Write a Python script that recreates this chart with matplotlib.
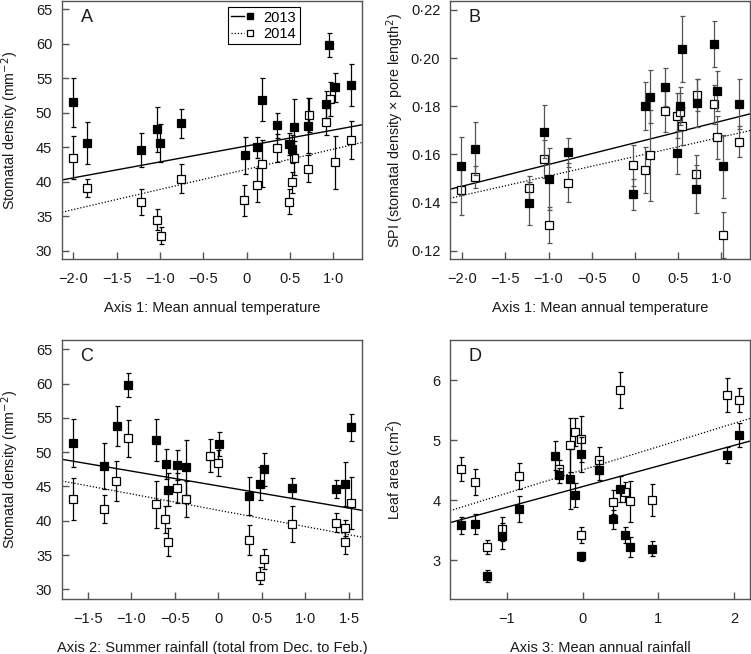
import matplotlib
matplotlib.use("Agg")
import matplotlib.pyplot as plt
import numpy as np
from matplotlib.lines import Line2D
from matplotlib.legend_handler import HandlerTuple
from matplotlib.ticker import FuncFormatter

plt.rcParams['font.family'] = ['Liberation Sans', 'DejaVu Sans']

# ---------------- data ----------------
years = ["2013", "2014"]

# Panel A: stomatal density vs Axis 1
a_x13 = [-2.00, -1.84, -1.22, -1.04, -0.995, -0.757, -0.02, 0.115, 0.176, 0.353, 0.49, 0.52, 0.545, 0.706, 0.91, 0.948, 1.02, 1.20]
a_y13 = [51.5, 45.6, 44.6, 47.6, 45.6, 48.5, 43.8, 45.0, 51.9, 48.2, 45.5, 44.7, 48.0, 48.1, 51.2, 59.8, 53.7, 54.0]
a_e13 = [3.6, 3.0, 2.4, 3.3, 2.7, 2.1, 2.7, 1.5, 3.1, 1.8, 1.6, 2.0, 4.0, 4.0, 2.0, 1.7, 2.1, 3.0]
a_x14 = [-2.00, -1.84, -1.22, -1.03, -0.99, -0.76, -0.028, 0.122, 0.176, 0.353, 0.49, 0.52, 0.545, 0.706, 0.72, 0.92, 0.96, 1.017, 1.20]
a_y14 = [43.5, 39.1, 37.1, 34.5, 32.2, 40.4, 37.3, 39.5, 42.6, 44.9, 37.1, 39.9, 43.4, 41.9, 49.7, 48.7, 52.0, 42.8, 46.0]
a_e14 = [3.1, 1.3, 1.9, 1.5, 1.3, 2.1, 2.2, 2.5, 3.4, 2.0, 1.8, 1.5, 2.5, 2.0, 2.5, 2.0, 2.5, 3.8, 2.75]
a_fit13 = [45.18, 2.31]   # intercept, slope
a_fit14 = [41.80, 2.92]

# Panel B: SPI vs Axis 1
b_x13 = [-2.015, -1.85, -1.225, -1.05, -1.0, -0.775, -0.027, 0.112, 0.17, 0.347, 0.486, 0.52, 0.543, 0.705, 0.717, 0.917, 0.951, 1.014, 1.20]
b_y13 = [0.155, 0.1624, 0.1397, 0.1693, 0.1498, 0.1609, 0.1434, 0.180, 0.1839, 0.188, 0.1607, 0.180, 0.2037, 0.1455, 0.1814, 0.2057, 0.1863, 0.155, 0.1809]
b_e13 = [0.012, 0.011, 0.009, 0.011, 0.013, 0.006, 0.0065, 0.010, 0.011, 0.008, 0.009, 0.008, 0.0137, 0.010, 0.010, 0.0095, 0.0085, 0.013, 0.0105]
b_x14 = [-2.015, -1.85, -1.225, -1.05, -1.0, -0.77, -0.027, 0.112, 0.17, 0.347, 0.486, 0.52, 0.547, 0.705, 0.717, 0.91, 0.951, 1.014, 1.20]
b_y14 = [0.1451, 0.1505, 0.1459, 0.158, 0.1306, 0.1483, 0.1555, 0.1535, 0.1596, 0.1779, 0.1761, 0.1775, 0.1717, 0.152, 0.1847, 0.1808, 0.167, 0.1264, 0.1653]
b_e14 = [0.0105, 0.0045, 0.005, 0.008, 0.0075, 0.0083, 0.0085, 0.0097, 0.019, 0.0085, 0.0095, 0.008, 0.008, 0.0078, 0.0066, 0.008, 0.009, 0.0096, 0.0063]
b_fit13 = [0.1648, 0.00902]
b_fit14 = [0.1591, 0.0081]

# Panel C: stomatal density vs Axis 2
c_x13 = [-1.665, -1.312, -1.166, -1.033, -0.715, -0.604, -0.58, -0.47, -0.374, 0.008, 0.352, 0.482, 0.52, 0.85, 1.348, 1.451, 1.52]
c_y13 = [51.4, 48.0, 53.8, 59.8, 51.8, 48.3, 44.5, 48.1, 47.8, 51.2, 43.6, 45.4, 47.5, 44.8, 44.6, 45.4, 53.6]
c_e13 = [3.5, 3.3, 2.9, 1.75, 3.1, 2.2, 2.4, 2.2, 4.0, 1.8, 2.8, 2.4, 2.4, 1.5, 1.3, 3.2, 2.0]
c_x14 = [-1.665, -1.312, -1.17, -1.033, -0.715, -0.612, -0.574, -0.47, -0.374, -0.095, 0.0, 0.352, 0.479, 0.52, 0.85, 1.348, 1.455, 1.46, 1.52]
c_y14 = [43.2, 41.7, 45.8, 52.0, 42.4, 40.2, 36.9, 44.8, 43.2, 49.5, 48.4, 37.2, 32.0, 34.4, 39.5, 39.7, 38.9, 36.9, 42.6]
c_e14 = [3.1, 2.0, 2.85, 2.7, 3.4, 2.0, 2.0, 2.2, 2.6, 2.35, 1.9, 2.2, 1.2, 1.5, 2.6, 1.4, 1.2, 1.7, 3.8]
c_fit13 = [45.08, -2.16]
c_fit14 = [41.53, -2.38]

# Panel D: leaf area vs Axis 3
d_x13 = [-1.605, -1.412, -1.262, -1.057, -0.84, -0.362, -0.305, -0.165, -0.103, -0.015, -0.015, 0.222, 0.406, 0.498, 0.56, 0.622, 0.911, 1.9, 2.066]
d_y13 = [3.58, 3.60, 2.74, 3.40, 3.85, 4.74, 4.41, 4.35, 4.09, 4.76, 3.06, 4.50, 3.68, 4.18, 3.42, 3.22, 3.19, 4.75, 5.08]
d_e13 = [0.14, 0.17, 0.10, 0.22, 0.21, 0.24, 0.13, 0.5, 0.2, 0.29, 0.08, 0.16, 0.16, 0.22, 0.13, 0.17, 0.13, 0.14, 0.2]
d_x14 = [-1.605, -1.412, -1.262, -1.065, -0.84, -0.305, -0.165, -0.103, -0.015, -0.015, 0.222, 0.406, 0.498, 0.565, 0.622, 0.911, 1.9, 2.066]
d_y14 = [4.51, 4.30, 3.22, 3.52, 4.40, 4.52, 4.91, 5.13, 5.02, 3.42, 4.66, 3.96, 5.83, 4.13, 3.98, 4.00, 5.75, 5.67]
d_e14 = [0.2, 0.22, 0.12, 0.2, 0.22, 0.15, 0.45, 0.23, 0.38, 0.13, 0.22, 0.2, 0.3, 0.17, 0.34, 0.27, 0.28, 0.2]
d_fit13 = [4.223, 0.344]
d_fit14 = [4.501, 0.389]

panel_letters = ["A", "B", "C", "D"]
xlabels = ["Axis 1: Mean annual temperature",
           "Axis 1: Mean annual temperature",
           "Axis 2: Summer rainfall (total from Dec. to Feb.)",
           "Axis 3: Mean annual rainfall"]
ylabels = ["Stomatal density (mm$^{-2}$)",
           "SPI (stomatal density \u00d7 pore length$^{2}$)",
           "Stomatal density (mm$^{-2}$)",
           "Leaf area (cm$^{2}$)"]
xticks_A = [-2.0, -1.5, -1.0, -0.5, 0, 0.5, 1.0]
xticks_C = [-1.5, -1.0, -0.5, 0, 0.5, 1.0, 1.5]
xticks_D = [-1, 0, 1, 2]
yticks_SD = [30, 35, 40, 45, 50, 55, 60, 65]
yticks_SPI = [0.12, 0.14, 0.16, 0.18, 0.20, 0.22]
yticks_LA = [3, 4, 5, 6]

# ---------------- figure ----------------
W, H = 751, 654
fig = plt.figure(figsize=(W / 100, H / 100), dpi=100)


def add_ax(l, r, t, b):
    return fig.add_axes([l / W, 1 - b / H, (r - l) / W, (b - t) / H])


axA = add_ax(62, 362, 1, 259.3)
axB = add_ax(450, 750, 1, 259.3)
axC = add_ax(62, 362, 340, 599.3)
axD = add_ax(450, 750, 340, 599.3)


def fmt(nd):
    def f(v, pos):
        if abs(v) < 1e-9:
            return "0"
        s = f"{v:.{nd}f}"
        return s.replace(".", "\u00b7").replace("-", "\u2212")
    return FuncFormatter(f)


def draw(ax, x13, y13, e13, x14, y14, e14, fit13, fit14, xlim, ylim, ecol):
    ax.set_xlim(xlim)
    ax.set_ylim(ylim)
    xx = np.array(xlim)
    ax.plot(xx, fit13[0] + fit13[1] * xx, color='black', lw=1.0, ls='-', zorder=2)
    ax.plot(xx, fit14[0] + fit14[1] * xx, color='black', lw=0.9, ls=(0, (1, 1.5)), zorder=2)
    ax.errorbar(x14, y14, yerr=e14, fmt='s', ms=5.6, mfc='white', mec='black', mew=0.9,
                ecolor=ecol, elinewidth=0.9, capsize=1.8, capthick=0.9, zorder=3)
    ax.errorbar(x13, y13, yerr=e13, fmt='s', ms=5.6, mfc='black', mec='black', mew=0.9,
                ecolor=ecol, elinewidth=0.9, capsize=1.8, capthick=0.9, zorder=4)
    for s in ax.spines.values():
        s.set_color('#555555')
        s.set_linewidth(1.0)
    ax.tick_params(direction='in', length=5, width=1, color='#555555', labelsize=10.5,
                   labelcolor='#1a1a1a')
    ax.tick_params(axis='x', pad=9)
    ax.tick_params(axis='y', pad=7)


draw(axA, a_x13, a_y13, a_e13, a_x14, a_y14, a_e14, a_fit13, a_fit14, (-2.13, 1.33), (28.75, 66.2), 'black')
draw(axB, b_x13, b_y13, b_e13, b_x14, b_y14, b_e14, b_fit13, b_fit14, (-2.14, 1.33), (0.1164, 0.2237), '#555555')
draw(axC, c_x13, c_y13, c_e13, c_x14, c_y14, c_e14, c_fit13, c_fit14, (-1.795, 1.65), (28.54, 66.36), 'black')
draw(axD, d_x13, d_y13, d_e13, d_x14, d_y14, d_e14, d_fit13, d_fit14, (-1.746, 2.207), (2.345, 6.667), 'black')

axA.set_xticks(xticks_A); axA.xaxis.set_major_formatter(fmt(1))
axB.set_xticks(xticks_A); axB.xaxis.set_major_formatter(fmt(1))
axC.set_xticks(xticks_C); axC.xaxis.set_major_formatter(fmt(1))
axD.set_xticks(xticks_D); axD.xaxis.set_major_formatter(fmt(0))
axA.set_yticks(yticks_SD); axA.yaxis.set_major_formatter(fmt(0))
axC.set_yticks(yticks_SD); axC.yaxis.set_major_formatter(fmt(0))
axB.set_yticks(yticks_SPI); axB.yaxis.set_major_formatter(fmt(2))
axD.set_yticks(yticks_LA); axD.yaxis.set_major_formatter(fmt(0))

ylabel_x = [-0.135, -0.148, -0.135, -0.148]
for ax, letter, xl, yl, yx in zip([axA, axB, axC, axD], panel_letters, xlabels, ylabels, ylabel_x):
    ax.set_xlabel(xl, fontsize=10.5, labelpad=11, color='#1a1a1a')
    ax.set_ylabel(yl, fontsize=10.3, color='#1a1a1a')
    ax.yaxis.set_label_coords(yx, 0.5)
    ax.text(0.082, 0.935, letter, transform=ax.transAxes, fontsize=13, ha='center', va='center',
            color='#1a1a1a')

# legend in panel A
h13 = (Line2D([], [], color='black', lw=1.0),
       Line2D([], [], ls='none', marker='s', ms=5.0, mfc='black', mec='black'))
h14 = (Line2D([], [], color='black', lw=0.9, ls=(0, (1, 1.5))),
       Line2D([], [], ls='none', marker='s', ms=5.0, mfc='white', mec='black', mew=0.9))
leg = axA.legend([h13, h14], years, handler_map={tuple: HandlerTuple(ndivide=2, pad=0)},
                 loc='upper left', bbox_to_anchor=(0.552, 0.977), borderaxespad=0,
                 fancybox=False, edgecolor='black', framealpha=1, fontsize=10.5,
                 handlelength=1.7, handletextpad=0.5, borderpad=0.25, labelspacing=0.15)
leg.get_frame().set_linewidth(0.8)

fig.savefig("out.png", dpi=100)
